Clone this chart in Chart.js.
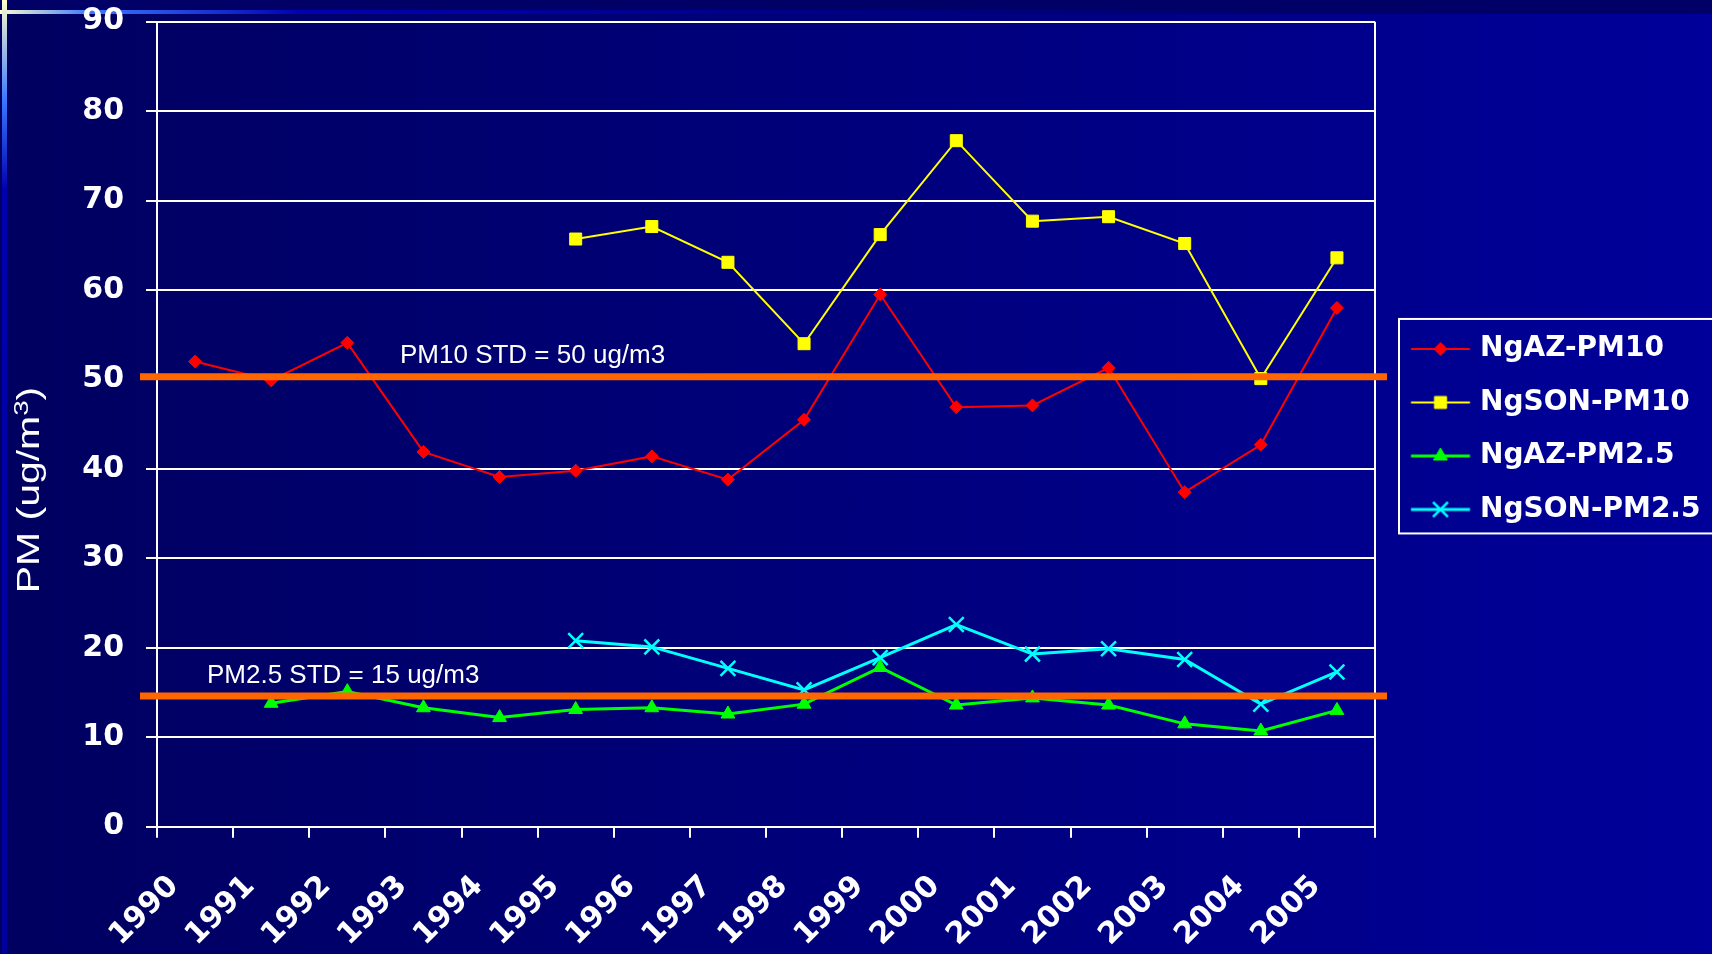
<!DOCTYPE html>
<html>
<head>
<meta charset="utf-8">
<title>PM trend</title>
<script src="https://cdn.jsdelivr.net/npm/chart.js@4.4.1/dist/chart.umd.min.js"></script>
<style>
  html, body { margin: 0; padding: 0; }
  body {
    width: 1712px; height: 954px; overflow: hidden; position: relative;
    background: linear-gradient(to right, #000060 0%, #00007c 50%, #00009a 100%);
  }
  #band { position: absolute; left: 0; top: 0; width: 1712px; height: 14px; background: #000066; }
  #topline {
    position: absolute; left: 0; top: 10px; width: 1712px; height: 4px;
    background: linear-gradient(to right, #ffffcc 0px, #3a78ff 90px, #0000b4 300px, #000088 800px, #000066 1300px);
  }
  #leftline {
    position: absolute; left: 2px; top: 0; width: 5px; height: 954px;
    background: linear-gradient(to bottom, #ffffcc 0px, #3a78ff 100px, #0000b0 190px, #00009c 100%);
  }
  canvas { position: absolute; left: 0; top: 0; }
</style>
</head>
<body>
<div id="band"></div>
<div id="topline"></div>
<div id="leftline"></div>
<canvas id="pmChart" width="1712" height="954" style="width:1712px;height:954px"></canvas>
<script>
// valeurs (ug/m3)
const years = ['1990', '1991', '1992', '1993', '1994', '1995', '1996', '1997',
               '1998', '1999', '2000', '2001', '2002', '2003', '2004', '2005'];
const ngazPm10  = [52.0, 49.9, 54.1, 41.9, 39.1, 39.8, 41.4, 38.8, 45.5, 59.5, 46.9, 47.1, 51.3, 37.4, 42.7, 58.0];
const ngsonPm10 = [null, null, null, null, null, 65.7, 67.1, 63.1, 54.0, 66.2, 76.7, 67.7, 68.2, 65.2, 50.1, 63.6];
const ngazPm25  = [null, 13.8, 15.1, 13.3, 12.2, 13.1, 13.3, 12.6, 13.7, 17.8, 13.6, 14.4, 13.6, 11.5, 10.7, 13.0];
const ngsonPm25 = [null, null, null, null, null, 20.8, 20.1, 17.7, 15.3, 18.9, 22.6, 19.3, 19.9, 18.7, 13.7, 17.3];
const seriesNames = ['NgAZ-PM10', 'NgSON-PM10', 'NgAZ-PM2.5', 'NgSON-PM2.5'];
const yMin = 0, yMax = 90, yStep = 10;
// normes tracées en orange
const stdLevels = [50.3, 14.6];
const stdLabels = ['PM10 STD = 50 ug/m3', 'PM2.5 STD = 15 ug/m3'];

// styles
const seriesColors = ['#ff0000', '#ffff00', '#00ff00', '#00ffff'];
const seriesMarkers = ['rectRot', 'rect', 'triangle', 'crossRot'];
const markerRadii = [6.5, 8.5, 8, 10.5];
const lineWidths = [2, 2, 3, 3];
const stdLabelX = [243, 50];

const W = 1712, H = 954;
const plotLeft = 157, plotTop = 21.7, plotBottom = 826.7, plotRight = 1375;

// largeur de la légende -> padding droit
const legendFont = { family: 'DejaVu Sans', weight: 'bold', size: 28 };
const legendPad = 25.5, legendBoxW = 65.5;
const mctx = document.createElement('canvas').getContext('2d');
mctx.font = 'bold 28px "DejaVu Sans"';
const longest = Math.max(...seriesNames.map(n => mctx.measureText(n).width));
const legendNeed = legendPad + legendBoxW + legendFont.size / 2 + longest + 10; // +10 : écart constaté au rendu
const padRight = W - plotRight - legendNeed;

// petit dessin ligne + marqueur pour la légende (décalé vers la droite dans l'image)
function legendSample(i) {
  const c = document.createElement('canvas');
  c.width = 76; c.height = 26;
  const g = c.getContext('2d');
  g.strokeStyle = seriesColors[i];
  g.fillStyle = seriesColors[i];
  g.lineWidth = lineWidths[i];
  g.beginPath(); g.moveTo(15.75, 13); g.lineTo(74.75, 13); g.stroke();
  g.lineWidth = seriesMarkers[i] === 'crossRot' ? 2.5 : 1;
  Chart.helpers.drawPoint(g, { pointStyle: seriesMarkers[i], radius: markerRadii[i], borderWidth: g.lineWidth, rotation: 0 }, 45.25, 13);
  return c;
}
const samples = seriesNames.map((n, i) => legendSample(i));

const seriesData = [ngazPm10, ngsonPm10, ngazPm25, ngsonPm25];
const datasets = seriesNames.map((name, i) => ({
  label: name,
  data: seriesData[i],
  borderColor: seriesColors[i],
  backgroundColor: seriesColors[i],
  borderWidth: lineWidths[i],
  pointStyle: seriesMarkers[i],
  pointRadius: markerRadii[i],
  pointBorderWidth: seriesMarkers[i] === 'crossRot' ? 2.5 : 1,
  pointBackgroundColor: seriesColors[i],
  pointBorderColor: seriesColors[i],
  tension: 0,
  spanGaps: false
}));

const stdLines = {
  id: 'stdLines',
  afterDatasetsDraw(chart) {
    const { ctx, chartArea, scales: { y } } = chart;
    ctx.save();
    // bord droit du cadre
    ctx.strokeStyle = '#ffffff';
    ctx.lineWidth = 2;
    ctx.beginPath();
    ctx.moveTo(chartArea.right, chartArea.top);
    ctx.lineTo(chartArea.right, chartArea.bottom);
    ctx.stroke();
    stdLevels.forEach((v, i) => {
      const py = y.getPixelForValue(v);
      ctx.strokeStyle = '#ff6600';
      ctx.lineWidth = 7;
      ctx.beginPath();
      ctx.moveTo(chartArea.left - 17, py);
      ctx.lineTo(chartArea.right + 12, py);
      ctx.stroke();
      ctx.fillStyle = '#ffffff';
      ctx.font = '26px "Liberation Sans", Arial, sans-serif';
      ctx.textBaseline = 'alphabetic';
      ctx.fillText(stdLabels[i], chartArea.left + stdLabelX[i], py - 13.5);
    });
    ctx.restore();
  }
};

// titre de l'axe Y (étiré comme sur l'original) + cadre de la légende
const extras = {
  id: 'extras',
  afterDraw(chart) {
    const ctx = chart.ctx;
    ctx.save();
    ctx.translate(39, 490);
    ctx.rotate(-Math.PI / 2);
    ctx.scale(1.32, 1);
    ctx.fillStyle = '#ffffff';
    ctx.textBaseline = 'alphabetic';
    const big = '31px "Liberation Sans", Arial, sans-serif';
    const small = '21px "Liberation Sans", Arial, sans-serif';
    ctx.font = big;
    const w1 = ctx.measureText('PM (ug/m').width;
    const w3 = ctx.measureText(')').width;
    ctx.font = small;
    const w2 = ctx.measureText('3').width;
    let x = -(w1 + w2 + w3) / 2;
    ctx.font = big; ctx.fillText('PM (ug/m', x, 0); x += w1;
    ctx.font = small; ctx.fillText('3', x, -11); x += w2;
    ctx.font = big; ctx.fillText(')', x, 0);
    ctx.restore();

    const hb = chart.legend.legendHitBoxes;
    if (hb && hb.length) {
      const half = legendFont.size / 2;
      const top = hb[0].top + half - 30;
      const bottom = hb[hb.length - 1].top + half + 24;
      const left = chart.chartArea.right + 24;
      ctx.save();
      ctx.strokeStyle = '#ffffff';
      ctx.lineWidth = 2;
      ctx.strokeRect(left, top, W + 20 - left, bottom - top);
      ctx.restore();
    }
  }
};

new Chart(document.getElementById('pmChart'), {
  type: 'line',
  data: { labels: years, datasets: datasets },
  options: {
    responsive: false,
    devicePixelRatio: 1,
    animation: false,
    events: [],
    layout: { padding: { left: 0, top: plotTop, right: padRight, bottom: 0 } },
    scales: {
      x: {
        type: 'category',
        offset: true,
        grid: { display: true, drawOnChartArea: false, offset: true, color: '#ffffff', lineWidth: 2, tickLength: 11 },
        border: { display: true, color: '#ffffff', width: 2 },
        ticks: {
          color: '#ffffff',
          font: { family: 'DejaVu Sans', weight: 'bold', size: 30 },
          minRotation: 45, maxRotation: 45,
          autoSkip: false,
          padding: 31,
          labelOffset: -21
        },
        afterFit(s) { s.height = H - plotBottom; s.paddingLeft = 0; s.paddingRight = 0; }
      },
      y: {
        min: yMin, max: yMax,
        grid: { color: '#ffffff', lineWidth: 2, tickLength: 11 },
        border: { display: true, color: '#ffffff', width: 2 },
        ticks: {
          stepSize: yStep,
          color: '#ffffff',
          font: { family: 'DejaVu Sans', weight: 'bold', size: 30 },
          padding: 22
        },
        afterFit(s) { s.width = plotLeft; s.paddingTop = 0; s.paddingBottom = 0; }
      }
    },
    plugins: {
      tooltip: { enabled: false },
      legend: {
        position: 'right',
        fullSize: false,
        // titre vide : décale un peu les entrées vers le bas
        title: { display: true, text: '', font: { size: 8, lineHeight: 1 }, padding: 1 },
        labels: {
          color: '#ffffff',
          font: legendFont,
          usePointStyle: true,
          pointStyleWidth: legendBoxW,
          padding: legendPad,
          generateLabels(chart) {
            return chart.data.datasets.map((ds, i) => ({
              text: ds.label,
              fillStyle: ds.borderColor,
              strokeStyle: ds.borderColor,
              lineWidth: 0,
              pointStyle: samples[i],
              fontColor: '#ffffff',
              hidden: false,
              datasetIndex: i
            }));
          }
        }
      }
    }
  },
  plugins: [stdLines, extras]
});
</script>
</body>
</html>
